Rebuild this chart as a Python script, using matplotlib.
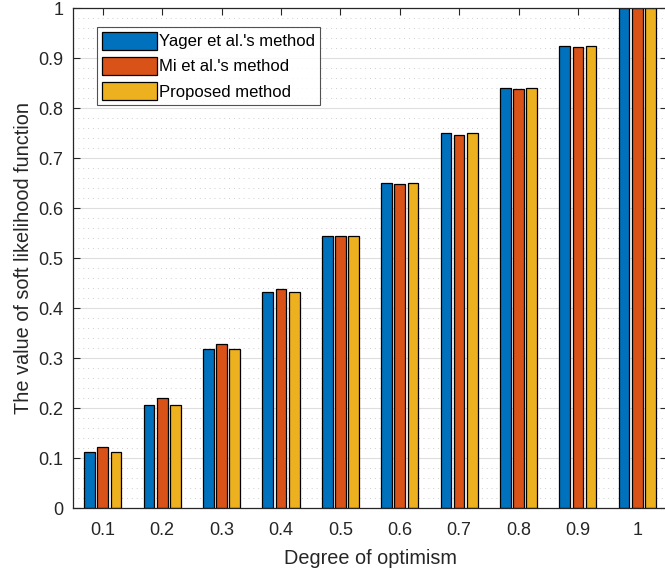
import matplotlib
matplotlib.use("Agg")
import matplotlib.pyplot as plt
import numpy as np

categories = ["0.1", "0.2", "0.3", "0.4", "0.5", "0.6", "0.7", "0.8", "0.9", "1"]
yager = [0.113, 0.207, 0.318, 0.433, 0.545, 0.651, 0.750, 0.840, 0.924, 1.0]
mi = [0.122, 0.220, 0.328, 0.438, 0.545, 0.648, 0.746, 0.838, 0.922, 1.0]
proposed = [0.113, 0.207, 0.318, 0.433, 0.545, 0.651, 0.750, 0.840, 0.924, 1.0]
series_names = ["Yager et al.'s method", "Mi et al.'s method", "Proposed method"]
colors = ["#0072BD", "#D95319", "#EDB120"]

plt.rcParams['font.family'] = ['Liberation Sans', 'DejaVu Sans']

fig = plt.figure(figsize=(6.65, 5.73), dpi=100)
ax = fig.add_axes([0.11, 0.113, 0.893, 0.873])

x = np.arange(1, len(categories) + 1)
offs = [-0.222, 0.0, 0.222]
w = 0.18
for vals, name, c, o in zip([yager, mi, proposed], series_names, colors, offs):
    ax.bar(x + o, vals, width=w, color=c, edgecolor='black', linewidth=0.9,
           label=name, zorder=3)

ax.set_xlim(0.5, 10.5)
ax.set_ylim(0, 1)
ax.set_xticks(x)
ax.set_xticklabels(categories)
ax.set_yticks(np.arange(0, 1.01, 0.1))
ax.set_yticklabels(["0", "0.1", "0.2", "0.3", "0.4", "0.5", "0.6", "0.7", "0.8", "0.9", "1"])
ax.set_yticks(np.arange(0, 1.0001, 0.02), minor=True)

ax.grid(True, which='major', axis='y', color='#dedede', linewidth=0.8, zorder=0)
ax.grid(True, which='minor', axis='y', color='#cfcfcf', linewidth=0.7,
        linestyle=(0, (1, 4)), zorder=0)

ax.tick_params(axis='both', which='major', direction='in', length=5, width=0.8,
               top=True, right=True, labelsize=13, colors='#262626')
ax.tick_params(axis='x', which='major', pad=10)
ax.tick_params(axis='y', which='major', pad=7)
ax.tick_params(axis='both', which='minor', length=0)
for s in ax.spines.values():
    s.set_color('#262626')
    s.set_linewidth(0.9)
    s.set_zorder(5)

ax.set_xlabel("Degree of optimism", fontsize=14.3, color='#262626', labelpad=7)
ax.set_ylabel("The value of soft likelihood function", fontsize=14.3, color='#262626', labelpad=4)

leg = ax.legend(loc='upper left', bbox_to_anchor=(0.04, 0.963), fontsize=12,
                frameon=True, fancybox=False, edgecolor='#262626',
                handlelength=3.3, handleheight=1.3, handletextpad=0.1,
                labelspacing=0.42, borderpad=0.3, borderaxespad=0)
leg.get_frame().set_linewidth(0.8)
leg.set_zorder(10)

fig.savefig("out.png", dpi=100)
